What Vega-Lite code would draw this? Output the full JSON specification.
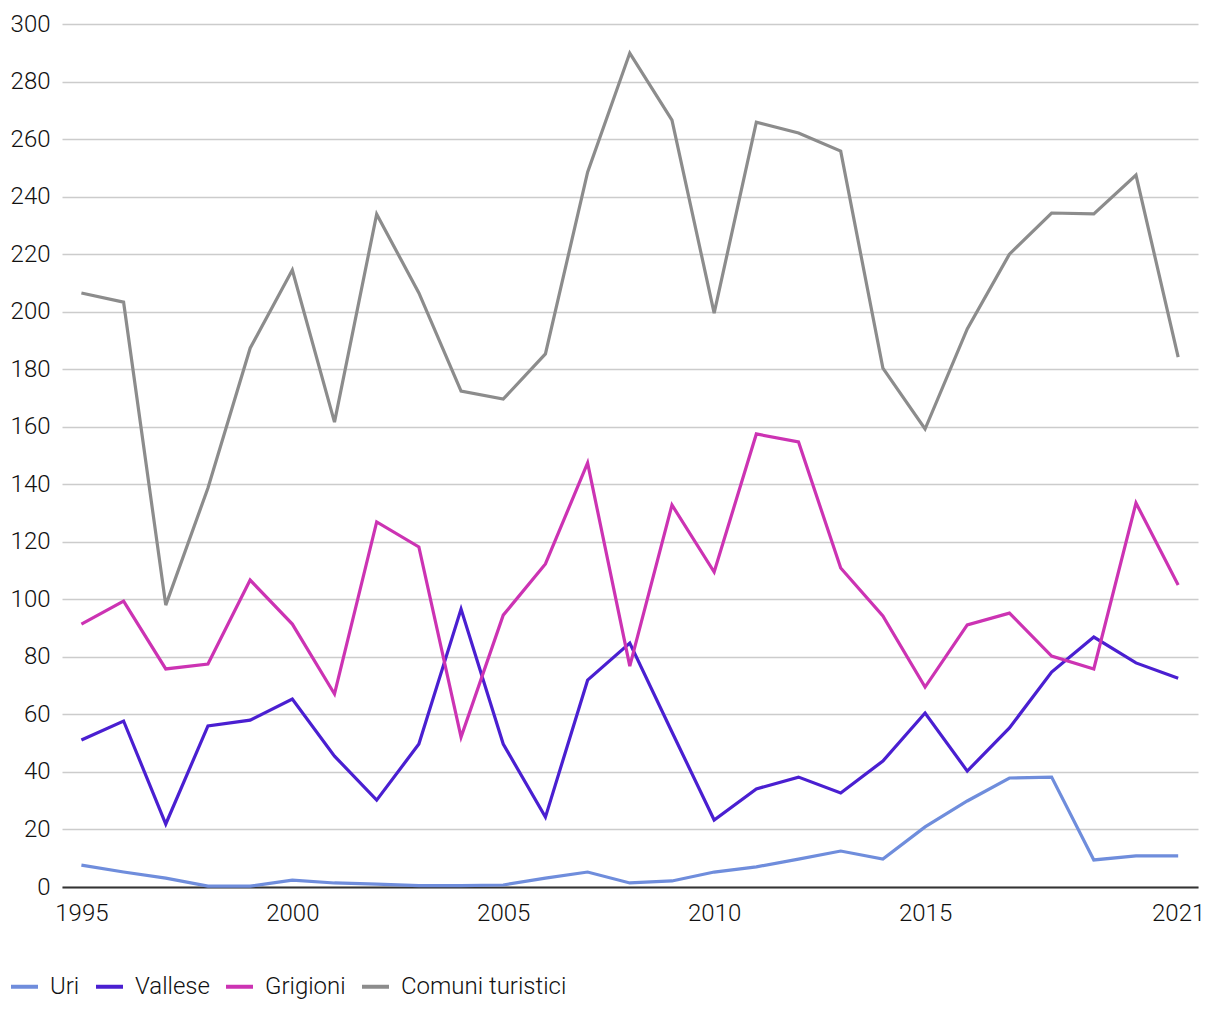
{
  "$schema": "https://vega.github.io/schema/vega-lite/v6.json",
  "autosize": {"type": "none"},
  "width": 1136,
  "height": 863,
  "padding": {"left": 62, "top": 24, "right": 22, "bottom": 133},
  "background": "white",
  "config": {
    "font": "Roboto",
    "view": {"stroke": null}
  },
  "data": {
    "values": [
      {"anno": 1995, "serie": "Uri", "valore": 7.6},
      {"anno": 1996, "serie": "Uri", "valore": 5.2},
      {"anno": 1997, "serie": "Uri", "valore": 3.1},
      {"anno": 1998, "serie": "Uri", "valore": 0.3},
      {"anno": 1999, "serie": "Uri", "valore": 0.3},
      {"anno": 2000, "serie": "Uri", "valore": 2.4},
      {"anno": 2001, "serie": "Uri", "valore": 1.4},
      {"anno": 2002, "serie": "Uri", "valore": 1.0},
      {"anno": 2003, "serie": "Uri", "valore": 0.5},
      {"anno": 2004, "serie": "Uri", "valore": 0.5},
      {"anno": 2005, "serie": "Uri", "valore": 0.7},
      {"anno": 2006, "serie": "Uri", "valore": 3.1},
      {"anno": 2007, "serie": "Uri", "valore": 5.2},
      {"anno": 2008, "serie": "Uri", "valore": 1.4},
      {"anno": 2009, "serie": "Uri", "valore": 2.1},
      {"anno": 2010, "serie": "Uri", "valore": 5.2},
      {"anno": 2011, "serie": "Uri", "valore": 7.0},
      {"anno": 2012, "serie": "Uri", "valore": 9.7},
      {"anno": 2013, "serie": "Uri", "valore": 12.5},
      {"anno": 2014, "serie": "Uri", "valore": 9.7},
      {"anno": 2015, "serie": "Uri", "valore": 20.9},
      {"anno": 2016, "serie": "Uri", "valore": 29.9},
      {"anno": 2017, "serie": "Uri", "valore": 37.9},
      {"anno": 2018, "serie": "Uri", "valore": 38.2},
      {"anno": 2019, "serie": "Uri", "valore": 9.4},
      {"anno": 2020, "serie": "Uri", "valore": 10.8},
      {"anno": 2021, "serie": "Uri", "valore": 10.8},

      {"anno": 1995, "serie": "Vallese", "valore": 51.1},
      {"anno": 1996, "serie": "Vallese", "valore": 57.7},
      {"anno": 1997, "serie": "Vallese", "valore": 21.9},
      {"anno": 1998, "serie": "Vallese", "valore": 56.0},
      {"anno": 1999, "serie": "Vallese", "valore": 58.0},
      {"anno": 2000, "serie": "Vallese", "valore": 65.3},
      {"anno": 2001, "serie": "Vallese", "valore": 45.5},
      {"anno": 2002, "serie": "Vallese", "valore": 30.2},
      {"anno": 2003, "serie": "Vallese", "valore": 49.7},
      {"anno": 2004, "serie": "Vallese", "valore": 96.6},
      {"anno": 2005, "serie": "Vallese", "valore": 49.7},
      {"anno": 2006, "serie": "Vallese", "valore": 24.3},
      {"anno": 2007, "serie": "Vallese", "valore": 71.9},
      {"anno": 2008, "serie": "Vallese", "valore": 84.8},
      {"anno": 2009, "serie": "Vallese", "valore": 53.9},
      {"anno": 2010, "serie": "Vallese", "valore": 23.3},
      {"anno": 2011, "serie": "Vallese", "valore": 34.1},
      {"anno": 2012, "serie": "Vallese", "valore": 38.2},
      {"anno": 2013, "serie": "Vallese", "valore": 32.7},
      {"anno": 2014, "serie": "Vallese", "valore": 43.8},
      {"anno": 2015, "serie": "Vallese", "valore": 60.5},
      {"anno": 2016, "serie": "Vallese", "valore": 40.3},
      {"anno": 2017, "serie": "Vallese", "valore": 55.3},
      {"anno": 2018, "serie": "Vallese", "valore": 74.7},
      {"anno": 2019, "serie": "Vallese", "valore": 86.9},
      {"anno": 2020, "serie": "Vallese", "valore": 77.9},
      {"anno": 2021, "serie": "Vallese", "valore": 72.6},

      {"anno": 1995, "serie": "Grigioni", "valore": 91.4},
      {"anno": 1996, "serie": "Grigioni", "valore": 99.4},
      {"anno": 1997, "serie": "Grigioni", "valore": 75.8},
      {"anno": 1998, "serie": "Grigioni", "valore": 77.5},
      {"anno": 1999, "serie": "Grigioni", "valore": 106.7},
      {"anno": 2000, "serie": "Grigioni", "valore": 91.4},
      {"anno": 2001, "serie": "Grigioni", "valore": 67.1},
      {"anno": 2002, "serie": "Grigioni", "valore": 126.9},
      {"anno": 2003, "serie": "Grigioni", "valore": 118.2},
      {"anno": 2004, "serie": "Grigioni", "valore": 52.1},
      {"anno": 2005, "serie": "Grigioni", "valore": 94.5},
      {"anno": 2006, "serie": "Grigioni", "valore": 112.3},
      {"anno": 2007, "serie": "Grigioni", "valore": 147.4},
      {"anno": 2008, "serie": "Grigioni", "valore": 76.8},
      {"anno": 2009, "serie": "Grigioni", "valore": 132.8},
      {"anno": 2010, "serie": "Grigioni", "valore": 109.5},
      {"anno": 2011, "serie": "Grigioni", "valore": 157.5},
      {"anno": 2012, "serie": "Grigioni", "valore": 154.7},
      {"anno": 2013, "serie": "Grigioni", "valore": 110.9},
      {"anno": 2014, "serie": "Grigioni", "valore": 94.2},
      {"anno": 2015, "serie": "Grigioni", "valore": 69.5},
      {"anno": 2016, "serie": "Grigioni", "valore": 91.1},
      {"anno": 2017, "serie": "Grigioni", "valore": 95.2},
      {"anno": 2018, "serie": "Grigioni", "valore": 80.3},
      {"anno": 2019, "serie": "Grigioni", "valore": 75.8},
      {"anno": 2020, "serie": "Grigioni", "valore": 133.5},
      {"anno": 2021, "serie": "Grigioni", "valore": 105.0},

      {"anno": 1995, "serie": "Comuni turistici", "valore": 206.5},
      {"anno": 1996, "serie": "Comuni turistici", "valore": 203.3},
      {"anno": 1997, "serie": "Comuni turistici", "valore": 98.0},
      {"anno": 1998, "serie": "Comuni turistici", "valore": 138.7},
      {"anno": 1999, "serie": "Comuni turistici", "valore": 187.3},
      {"anno": 2000, "serie": "Comuni turistici", "valore": 214.5},
      {"anno": 2001, "serie": "Comuni turistici", "valore": 161.6},
      {"anno": 2002, "serie": "Comuni turistici", "valore": 233.9},
      {"anno": 2003, "serie": "Comuni turistici", "valore": 206.5},
      {"anno": 2004, "serie": "Comuni turistici", "valore": 172.4},
      {"anno": 2005, "serie": "Comuni turistici", "valore": 169.6},
      {"anno": 2006, "serie": "Comuni turistici", "valore": 185.3},
      {"anno": 2007, "serie": "Comuni turistici", "valore": 248.5},
      {"anno": 2008, "serie": "Comuni turistici", "valore": 289.9},
      {"anno": 2009, "serie": "Comuni turistici", "valore": 266.6},
      {"anno": 2010, "serie": "Comuni turistici", "valore": 199.5},
      {"anno": 2011, "serie": "Comuni turistici", "valore": 265.9},
      {"anno": 2012, "serie": "Comuni turistici", "valore": 262.1},
      {"anno": 2013, "serie": "Comuni turistici", "valore": 255.8},
      {"anno": 2014, "serie": "Comuni turistici", "valore": 180.4},
      {"anno": 2015, "serie": "Comuni turistici", "valore": 159.2},
      {"anno": 2016, "serie": "Comuni turistici", "valore": 194.0},
      {"anno": 2017, "serie": "Comuni turistici", "valore": 220.0},
      {"anno": 2018, "serie": "Comuni turistici", "valore": 234.3},
      {"anno": 2019, "serie": "Comuni turistici", "valore": 234.0},
      {"anno": 2020, "serie": "Comuni turistici", "valore": 247.5},
      {"anno": 2021, "serie": "Comuni turistici", "valore": 184.2}
    ]
  },
  "mark": {"type": "line", "strokeWidth": 3.2, "strokeJoin": "miter", "strokeCap": "butt"},
  "encoding": {
    "x": {
      "field": "anno",
      "type": "quantitative",
      "scale": {"domain": [1994.54, 2021.47], "nice": false, "zero": false},
      "axis": {
        "title": null,
        "values": [1995, 2000, 2005, 2010, 2015, 2021],
        "format": "d",
        "grid": false,
        "ticks": false,
        "domain": true,
        "domainColor": "#333333",
        "domainWidth": 2,
        "labelFont": "Roboto",
        "labelFontWeight": 300,
        "labelFontSize": 24,
        "labelColor": "#111111",
        "labelPadding": 14,
        "labelFlush": false
      }
    },
    "y": {
      "field": "valore",
      "type": "quantitative",
      "scale": {"domain": [0, 300], "nice": false},
      "axis": {
        "title": null,
        "values": [0, 20, 40, 60, 80, 100, 120, 140, 160, 180, 200, 220, 240, 260, 280, 300],
        "grid": true,
        "gridColor": "#cccccc",
        "gridWidth": 1.5,
        "ticks": false,
        "domain": false,
        "labelFont": "Roboto",
        "labelFontWeight": 300,
        "labelFontSize": 24,
        "labelColor": "#111111",
        "labelPadding": 12
      }
    },
    "color": {
      "field": "serie",
      "type": "nominal",
      "sort": ["Uri", "Vallese", "Grigioni", "Comuni turistici"],
      "scale": {
        "domain": ["Uri", "Vallese", "Grigioni", "Comuni turistici"],
        "range": ["#6f8ddc", "#4a1fd1", "#cc33b3", "#8c8c8c"]
      },
      "legend": {
        "title": null,
        "orient": "none",
        "legendX": -53,
        "legendY": 947,
        "direction": "horizontal",
        "symbolType": "stroke",
        "symbolSize": 729,
        "symbolStrokeWidth": 4,
        "labelFont": "Roboto",
        "labelFontWeight": 300,
        "labelFontSize": 24,
        "labelColor": "#111111",
        "labelOffset": 10,
        "labelLimit": 400,
        "columnPadding": 8
      }
    }
  }
}
